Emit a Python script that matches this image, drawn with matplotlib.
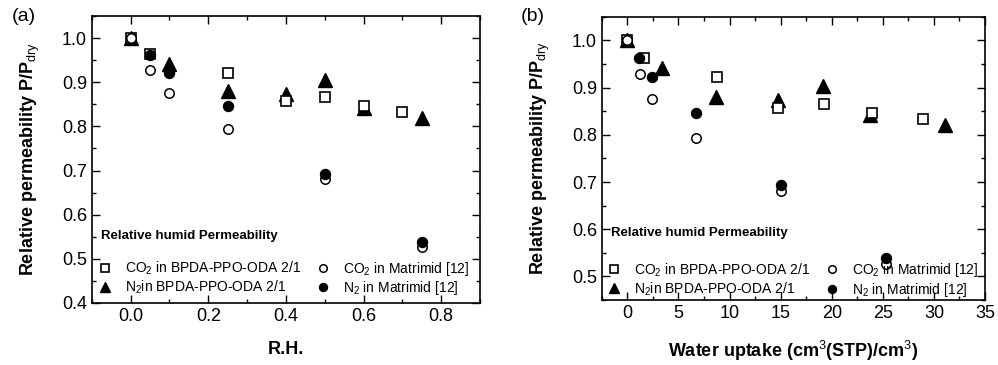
import matplotlib
matplotlib.use("Agg")
import matplotlib.pyplot as plt
from matplotlib.ticker import MultipleLocator

plt.rcParams['font.family'] = ['Liberation Sans', 'DejaVu Sans']
plt.rcParams['mathtext.fontset'] = 'custom'
plt.rcParams['mathtext.rm'] = 'Liberation Sans'
plt.rcParams['mathtext.bf'] = 'Liberation Sans:bold'

# relative humidity (panel a)
rh_co2_bpda = [0.0, 0.05, 0.25, 0.40, 0.50, 0.60, 0.70]
rh_n2_bpda = [0.0, 0.10, 0.25, 0.40, 0.50, 0.60, 0.75]
rh_co2_matr = [0.0, 0.05, 0.10, 0.25, 0.50, 0.75]
rh_n2_matr = [0.05, 0.10, 0.25, 0.50, 0.75]

# water uptake (panel b)
wu_co2_bpda = [0.0, 1.6, 8.8, 14.7, 19.2, 23.9, 28.9]
wu_n2_bpda = [0.0, 3.4, 8.7, 14.7, 19.1, 23.7, 31.1]
wu_co2_matr = [0.0, 1.2, 2.45, 6.7, 15.05, 25.3]
wu_n2_matr = [1.15, 2.45, 6.7, 15.05, 25.3]

# relative permeability P/P_dry
p_co2_bpda = [1.0, 0.963, 0.922, 0.857, 0.866, 0.847, 0.833]
p_n2_bpda = [1.0, 0.941, 0.880, 0.873, 0.904, 0.842, 0.820]
p_co2_matr = [1.0, 0.928, 0.876, 0.794, 0.681, 0.526]
p_n2_matr = [0.962, 0.922, 0.846, 0.693, 0.539]

labels = [r'CO$_2$ in BPDA-PPO-ODA 2/1', r'N$_2$in BPDA-PPO-ODA 2/1',
          r'CO$_2$ in Matrimid [12]', r'N$_2$ in Matrimid [12]']


def draw_panel(ax, xs, xlabel, leg_anchor):
    x_co2_bpda, x_n2_bpda, x_co2_matr, x_n2_matr = xs
    h_tri, = ax.plot(x_n2_bpda, p_n2_bpda, '^', color='black', ms=9.5,
                     ls='none', zorder=3)
    h_sq, = ax.plot(x_co2_bpda, p_co2_bpda, 's', mfc='white', mec='black',
                    mew=1.2, ms=6.8, ls='none', zorder=4)
    h_oc, = ax.plot(x_co2_matr, p_co2_matr, 'o', mfc='white', mec='black',
                    mew=1.1, ms=6.8, ls='none', zorder=5)
    h_fc, = ax.plot(x_n2_matr, p_n2_matr, 'o', color='black', ms=7.2,
                    ls='none', zorder=6)

    ax.tick_params(which='both', direction='in', top=True, right=True,
                   labelsize=13, width=1)
    ax.tick_params(which='major', length=6)
    ax.tick_params(which='minor', length=3)
    ax.yaxis.set_major_locator(MultipleLocator(0.1))
    ax.yaxis.set_minor_locator(MultipleLocator(0.05))
    ax.yaxis.set_major_formatter(plt.FormatStrFormatter('%.1f'))
    for s in ax.spines.values():
        s.set_linewidth(1.2)

    ax.set_xlabel(xlabel, fontsize=13, fontweight='bold', labelpad=12)
    ax.set_ylabel(r'Relative permeability P/P$_{\rm dry}$', fontsize=13,
                  fontweight='bold', labelpad=14)

    ax.text(0.024, 0.235, 'Relative humid Permeability', transform=ax.transAxes,
            fontsize=9.5, fontweight='bold', va='center')
    ax.legend([h_sq, h_tri, h_oc, h_fc], labels, ncol=2, frameon=False,
              loc='lower left', bbox_to_anchor=leg_anchor, fontsize=10,
              markerscale=0.8, handlelength=1.2, handletextpad=0.85,
              columnspacing=1.0, labelspacing=0.12, borderpad=0.0,
              borderaxespad=0.0)


fig = plt.figure(figsize=(9.98, 3.65), dpi=100)

ax_a = fig.add_axes([0.092, 0.170, 0.389, 0.786])
draw_panel(ax_a, (rh_co2_bpda, rh_n2_bpda, rh_co2_matr, rh_n2_matr), 'R.H.',
           (0.012, 0.02))
ax_a.set_xlim(-0.1, 0.9)
ax_a.set_ylim(0.4, 1.05)
ax_a.xaxis.set_major_locator(MultipleLocator(0.2))
ax_a.xaxis.set_minor_locator(MultipleLocator(0.1))
ax_a.xaxis.set_major_formatter(plt.FormatStrFormatter('%.1f'))

ax_b = fig.add_axes([0.603, 0.178, 0.384, 0.776])
draw_panel(ax_b, (wu_co2_bpda, wu_n2_bpda, wu_co2_matr, wu_n2_matr),
           r'Water uptake (cm$^3$(STP)/cm$^3$)', (0.009, 0.004))
ax_b.set_xlim(-2.5, 35)
ax_b.set_ylim(0.45, 1.05)
ax_b.xaxis.set_major_locator(MultipleLocator(5))
ax_b.xaxis.set_minor_locator(MultipleLocator(2.5))

fig.text(0.012, 0.955, '(a)', fontsize=14, va='center')
fig.text(0.522, 0.955, '(b)', fontsize=14, va='center')

fig.savefig('out.png', dpi=100)
